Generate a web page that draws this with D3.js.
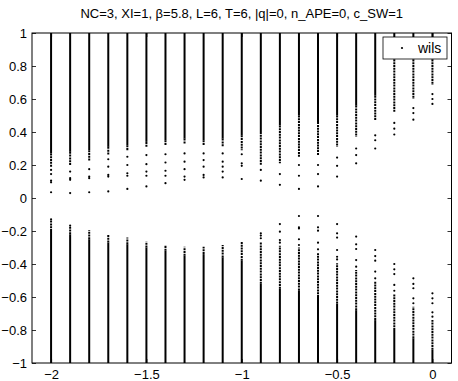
<!DOCTYPE html>
<html>
<head>
<meta charset="utf-8">
<script src="https://cdn.jsdelivr.net/npm/d3@7"></script>
<style>
  body { margin: 0; background: #fff; }
  svg { display: block; font-family: "Liberation Sans", Arial, Helvetica, sans-serif; }
  .eje text { font-size: 13px; fill: #000; }
  .eje line { stroke: #000; stroke-width: 0.8; }
</style>
</head>
<body>
<div id="graf"></div>
<script>
// datos
const titulo = "NC=3, XI=1, \u03b2=5.8, L=6, T=6, |q|=0, n_APE=0, c_SW=1";
const leyenda = "wils";
const xTicks = [-2, -1.5, -1, -0.5, 0];
const yTicks = [-1, -0.8, -0.6, -0.4, -0.2, 0, 0.2, 0.4, 0.6, 0.8, 1];

// posición de cada columna
const columnas = [-2, -1.9, -1.8, -1.7, -1.6, -1.5, -1.4, -1.3, -1.2, -1.1, -1, -0.9, -0.8, -0.7, -0.6, -0.5, -0.4, -0.3, -0.2, -0.1, 0];

// banda superior: tramo continuo (hasta 1), tramo punteado y puntos sueltos
const supContinuo = [0.27, 0.28, 0.29, 0.31, 0.32, 0.34, 0.35, 0.36, 0.35, 0.36, 0.38, 0.40, 0.44, 0.50, 0.46, 0.50, 0.56, 0.62, 0.84, 0.84, 0.84];
const supPunteado = [0.19, 0.20, 0.225, 0.26, 0.285, 0.31, 0.32, 0.33, 0.32, 0.31, 0.29, 0.20, 0.21, 0.25, 0.26, 0.31, 0.37, 0.47, 0.52, 0.60, 0.685];
const supSueltos = [
  [0.17, 0.145, 0.105, 0.095, 0.035],
  [0.16, 0.12, 0.11, 0.03],
  [0.175, 0.13, 0.12, 0.035],
  [0.235, 0.19, 0.14, 0.13, 0.04],
  [0.25, 0.20, 0.15, 0.135, 0.055],
  [0.26, 0.205, 0.16, 0.135, 0.07],
  [0.265, 0.215, 0.165, 0.135, 0.09],
  [0.27, 0.22, 0.175, 0.13, 0.11],
  [0.27, 0.23, 0.19, 0.14, 0.125],
  [0.27, 0.22, 0.19, 0.16, 0.125],
  [0.265, 0.21, 0.195, 0.115],
  [0.17, 0.105],
  [0.145, 0.08],
  [0.20, 0.135, 0.055],
  [0.20, 0.145, 0.07],
  [0.245, 0.195, 0.13],
  [0.30, 0.26, 0.21],
  [0.38, 0.35, 0.30],
  [0.455, 0.42, 0.385],
  [0.545, 0.515, 0.475],
  [0.63, 0.60, 0.57]
];

// banda inferior: tramo continuo (desde -1), tramo punteado y puntos sueltos
const infContinuo = [-0.20, -0.22, -0.25, -0.27, -0.28, -0.30, -0.32, -0.35, -0.34, -0.36, -0.38, -0.52, -0.55, -0.56, -0.60, -0.64, -0.68, -0.74, -0.80, -0.85, -0.92];
const infPunteado = [-0.135, -0.175, -0.194, -0.22, -0.24, -0.265, -0.285, -0.295, -0.295, -0.285, -0.26, -0.265, -0.29, -0.30, -0.335, -0.396, -0.436, -0.507, -0.582, -0.659, -0.739];
const infSueltos = [
  [-0.129],
  [-0.168],
  [], [], [], [], [], [], [], [], [],
  [-0.214, -0.228, -0.244],
  [-0.158, -0.204, -0.255, -0.271],
  [-0.109, -0.178, -0.185, -0.250, -0.285],
  [-0.109, -0.178, -0.198, -0.271, -0.311],
  [-0.158, -0.214, -0.240, -0.315, -0.356, -0.372],
  [-0.234, -0.281, -0.309, -0.376, -0.416],
  [-0.315, -0.352, -0.380, -0.446, -0.487],
  [-0.400, -0.432, -0.461, -0.527, -0.562],
  [-0.487, -0.521, -0.547, -0.608, -0.638],
  [-0.578, -0.608, -0.638, -0.693, -0.719]
];

const ancho = 458, alto = 381;
const margins = { left: 32, top: 33, right: 6.5, bottom: 18 };

const x = d3.scaleLinear().domain([-2.1, 0.1]).range([margins.left, ancho - margins.right]);
const y = d3.scaleLinear().domain([-1, 1]).range([alto - margins.bottom, margins.top]);

const svg = d3.select("#graf").append("svg")
  .attr("width", ancho)
  .attr("height", alto);

// tramos continuos y punteados
const tramos = [];
columnas.forEach((c, i) => {
  tramos.push({ x: c, y0: 1, y1: supContinuo[i], tipo: "c" });
  tramos.push({ x: c, y0: supContinuo[i], y1: supPunteado[i], tipo: "p" });
  tramos.push({ x: c, y0: -1, y1: infContinuo[i], tipo: "c" });
  tramos.push({ x: c, y0: infContinuo[i], y1: infPunteado[i], tipo: "p" });
});

svg.append("g").selectAll("line")
  .data(tramos)
  .enter()
  .append("line")
  .attr("x1", d => x(d.x))
  .attr("x2", d => x(d.x))
  .attr("y1", d => y(d.y0))
  .attr("y2", d => y(d.y1))
  .attr("stroke", "#000")
  .attr("stroke-width", 2)
  .attr("stroke-dasharray", d => d.tipo === "p" ? "2,0.8" : null);

// puntos sueltos
const puntos = [];
columnas.forEach((c, i) => {
  supSueltos[i].forEach(v => puntos.push({ x: c, v: v }));
  infSueltos[i].forEach(v => puntos.push({ x: c, v: v }));
});

svg.append("g").selectAll("circle")
  .data(puntos)
  .enter()
  .append("circle")
  .attr("cx", d => x(d.x))
  .attr("cy", d => y(d.v))
  .attr("r", 1.1)
  .attr("fill", "#000");

// ejes (marcas hacia dentro, como matlab)
const fmt = d3.format("~g");
const x0 = margins.left, x1 = ancho - margins.right;
const y0 = alto - margins.bottom, y1 = margins.top;

svg.append("g").attr("class", "eje")
  .attr("transform", `translate(0, ${y0})`)
  .call(d3.axisBottom(x).tickValues(xTicks).tickSize(-4).tickPadding(7).tickFormat(fmt))
  .call(g => g.select(".domain").remove());
svg.append("g").attr("class", "eje")
  .attr("transform", `translate(0, ${y1})`)
  .call(d3.axisTop(x).tickValues(xTicks).tickSize(-4).tickFormat(""))
  .call(g => g.select(".domain").remove());
svg.append("g").attr("class", "eje")
  .attr("transform", `translate(${x0}, 0)`)
  .call(d3.axisLeft(y).tickValues(yTicks).tickSize(-4).tickPadding(5).tickFormat(fmt))
  .call(g => g.select(".domain").remove());
svg.append("g").attr("class", "eje")
  .attr("transform", `translate(${x1}, 0)`)
  .call(d3.axisRight(y).tickValues(yTicks).tickSize(-4).tickFormat(""))
  .call(g => g.select(".domain").remove());

svg.selectAll(".eje text").attr("fill", "#000");

// marco
svg.append("rect")
  .attr("x", x0).attr("y", y1)
  .attr("width", x1 - x0).attr("height", y0 - y1)
  .attr("fill", "none").attr("stroke", "#000").attr("stroke-width", 1);

// título
svg.append("text")
  .attr("x", (x0 + x1) / 2)
  .attr("y", 18)
  .attr("text-anchor", "middle")
  .attr("font-size", "13px")
  .text(titulo);

// leyenda
const ley = svg.append("g");
ley.append("rect")
  .attr("x", 383).attr("y", 37)
  .attr("width", 64).attr("height", 22)
  .attr("fill", "#fff").attr("stroke", "#000").attr("stroke-width", 0.8);
ley.append("circle")
  .attr("cx", 402).attr("cy", 48).attr("r", 1.1).attr("fill", "#000");
ley.append("text")
  .attr("x", 418).attr("y", 53)
  .attr("font-size", "14px")
  .text(leyenda);
</script>
</body>
</html>
